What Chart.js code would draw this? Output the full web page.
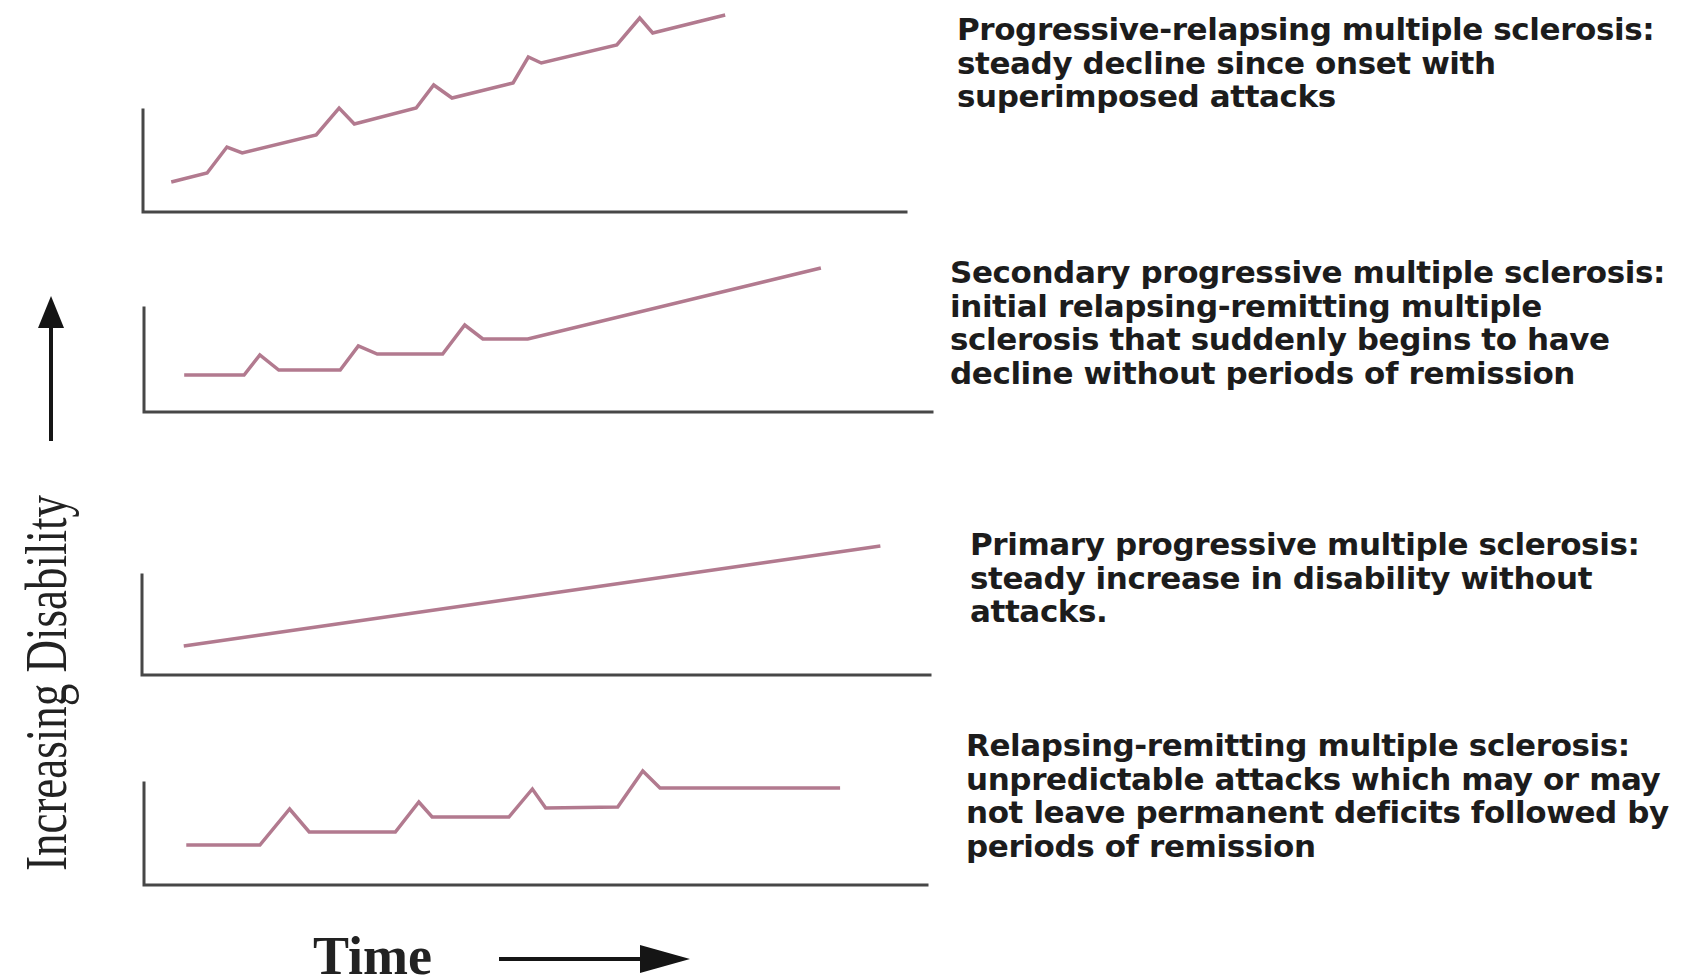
<!DOCTYPE html>
<html>
<head>
<meta charset="utf-8">
<script src="https://cdn.jsdelivr.net/npm/chart.js@4.4.0/dist/chart.umd.min.js"></script>
<style>
html,body{margin:0;padding:0;background:#fff;}
body{width:1707px;height:978px;overflow:hidden;position:relative;}
canvas.panel{position:absolute;}
.desc{position:absolute;font-family:'DejaVu Sans',sans-serif;font-weight:700;font-size:31px;line-height:33.5px;color:#1c1c1c;white-space:nowrap;letter-spacing:-0.4px;}
#ylab{position:absolute;left:46px;top:683px;font-family:'Liberation Serif',serif;font-size:60px;color:#222;white-space:nowrap;transform:translate(-50%,-50%) rotate(-90deg) scaleX(0.75);line-height:1;}
#xlab{position:absolute;left:313px;top:956px;font-family:'Liberation Serif',serif;font-weight:700;font-size:54px;color:#222;white-space:nowrap;transform:translateY(-50%);line-height:1;}
svg.arrow{position:absolute;left:0;top:0;}
</style>
</head>
<body>
<svg class="arrow" width="1707" height="978">
  <line x1="51" y1="441" x2="51" y2="320" stroke="#151515" stroke-width="4"/>
  <polygon points="51,296 38,328 64,328" fill="#151515"/>
  <line x1="499" y1="959" x2="650" y2="959" stroke="#151515" stroke-width="4"/>
  <polygon points="690,959 640,945 640,973" fill="#151515"/>
</svg>
<div id="ylab">Increasing Disability</div>
<div id="xlab">Time</div>

<script>
// ---- Data (time in arbitrary units 0-100, disability in arbitrary units 0-100) ----
// Progressive-relapsing MS
const prTime       = [3.7, 8.4, 11.0, 13.0, 22.7, 25.7, 27.7, 35.8, 38.1, 40.5, 48.5, 50.5, 52.2, 62.1, 65.1, 66.8, 76.3];
const prDisability = [15, 19.5, 32.5, 29.5, 38.5, 52, 44, 52, 63.5, 57, 64.5, 77.5, 74.5, 83.5, 97, 89.5, 98.5];
// Secondary progressive MS
const spTime       = [5.1, 12.7, 14.7, 17.1, 24.9, 27.2, 29.6, 37.9, 40.7, 43.0, 48.7, 85.9];
const spDisability = [18.5, 18.5, 28.5, 21, 21, 33, 29, 29, 43.5, 36.5, 36.5, 72];
// Primary progressive MS
const ppTime       = [5.3, 93.7];
const ppDisability = [14.5, 64.5];
// Relapsing-remitting MS
const rrTime       = [5.4, 14.8, 18.6, 21.1, 32.1, 35.1, 36.8, 46.6, 49.6, 51.3, 60.5, 63.7, 65.9, 88.9];
const rrDisability = [20, 20, 38, 26.5, 26.5, 41.5, 34, 34, 48, 38.5, 39, 57, 48.5, 48.5];
// Axis extents (value where each vertical axis line stops)
const axisTops = [51, 52, 50, 51];

const descriptions = [
  ["Progressive-relapsing multiple sclerosis:", "steady decline since onset with", "superimposed attacks"],
  ["Secondary progressive multiple sclerosis:", "initial relapsing-remitting multiple", "sclerosis that suddenly begins to have", "decline without periods of remission"],
  ["Primary progressive multiple sclerosis:", "steady increase in disability without", "attacks."],
  ["Relapsing-remitting multiple sclerosis:", "unpredictable attacks which may or may", "not leave permanent deficits followed by", "periods of remission"]
];

// ---- Layout (pixel boxes of each panel's plot area) ----
const panels = [
  {L:143, R:906, T:12,  B:212, time: prTime, dis: prDisability, tx:957, ty:13},
  {L:144, R:932, T:212, B:412, time: spTime, dis: spDisability, tx:950, ty:256},
  {L:142, R:930, T:475, B:675, time: ppTime, dis: ppDisability, tx:970, ty:528},
  {L:144, R:927, T:685, B:885, time: rrTime, dis: rrDisability, tx:966, ty:729}
];
const PAD = 12;
const LINE_COLOR = '#b27a8f';
const AXIS_COLOR = '#474747';

const axesPlugin = {
  id: 'lAxes',
  beforeDatasetsDraw(chart, args, opts) {
    const ctx = chart.ctx, xs = chart.scales.x, ys = chart.scales.y;
    const x0 = xs.getPixelForValue(0), y0 = ys.getPixelForValue(0);
    const yTop = ys.getPixelForValue(opts.top), xEnd = xs.getPixelForValue(100);
    ctx.save();
    ctx.strokeStyle = AXIS_COLOR;
    ctx.lineWidth = 3;
    ctx.lineCap = 'square';
    ctx.beginPath();
    ctx.moveTo(x0, yTop); ctx.lineTo(x0, y0); ctx.lineTo(xEnd, y0);
    ctx.stroke();
    ctx.restore();
  }
};

panels.forEach((p, i) => {
  const c = document.createElement('canvas');
  c.className = 'panel';
  const w = p.R - p.L + 2*PAD, h = p.B - p.T + 2*PAD;
  c.width = w; c.height = h;
  c.style.width = w + 'px'; c.style.height = h + 'px';
  c.style.left = (p.L - PAD) + 'px'; c.style.top = (p.T - PAD) + 'px';
  document.body.appendChild(c);
  new Chart(c, {
    type: 'line',
    data: {
      datasets: [{
        data: p.time.map((t, k) => ({x: t, y: p.dis[k]})),
        borderColor: LINE_COLOR,
        borderWidth: 3.5,
        pointRadius: 0,
        tension: 0,
        borderJoinStyle: 'miter',
        clip: false
      }]
    },
    options: {
      responsive: false,
      animation: false,
      devicePixelRatio: 1,
      layout: {padding: PAD},
      scales: {
        x: {type: 'linear', min: 0, max: 100, display: false},
        y: {type: 'linear', min: 0, max: 100, display: false}
      },
      plugins: {legend: {display: false}, tooltip: {enabled: false}, lAxes: {top: axisTops[i]}}
    },
    plugins: [axesPlugin]
  });
  const d = document.createElement('div');
  d.className = 'desc';
  d.style.left = p.tx + 'px'; d.style.top = p.ty + 'px';
  d.innerHTML = descriptions[i].join('<br>');
  document.body.appendChild(d);
});
</script>
</body>
</html>
